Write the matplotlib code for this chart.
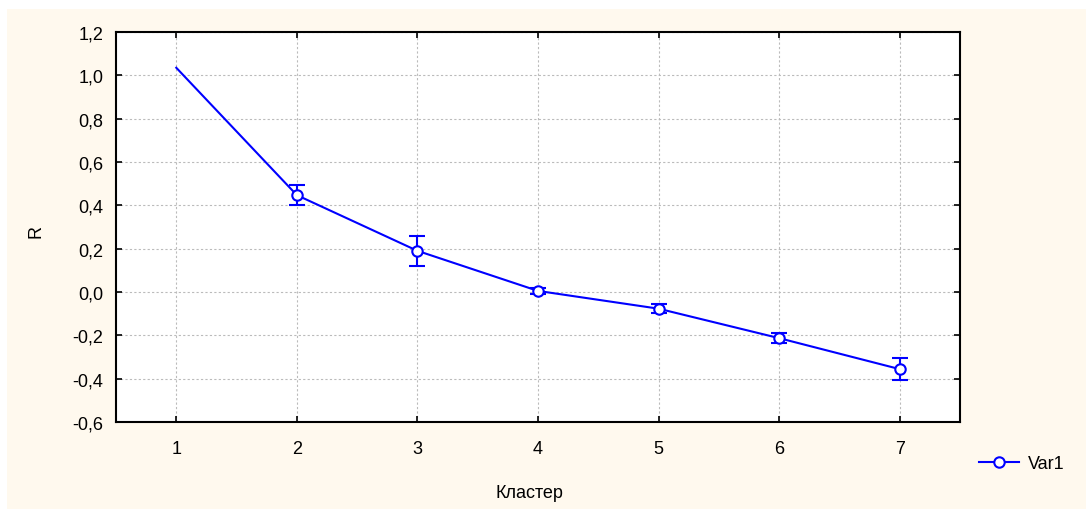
import matplotlib
matplotlib.use("Agg")
import matplotlib.pyplot as plt
from matplotlib.patches import Rectangle
from matplotlib.lines import Line2D

plt.rcParams['font.family'] = ['Liberation Sans', 'DejaVu Sans']

clusters = [1, 2, 3, 4, 5, 6, 7]
values = [1.035, 0.447, 0.190, 0.005, -0.077, -0.213, -0.356]
err_clusters = [2, 3, 4, 5, 6, 7]
err_values = [0.447, 0.190, 0.005, -0.077, -0.213, -0.356]
err_sizes = [0.045, 0.07, 0.012, 0.021, 0.022, 0.052]
yticks = [-0.6, -0.4, -0.2, 0.0, 0.2, 0.4, 0.6, 0.8, 1.0, 1.2]
ytick_labels = ["-0,6", "-0,4", "-0,2", "0,0", "0,2", "0,4", "0,6", "0,8", "1,0", "1,2"]
xtick_labels = ["1", "2", "3", "4", "5", "6", "7"]

W, H = 1086, 510
fs = 13
fig = plt.figure(figsize=(W / 100, H / 100), dpi=100, facecolor='white')
fig.patches.append(Rectangle((7 / W, 0), 1 - 7 / W, 1 - 10 / H, transform=fig.transFigure,
                             facecolor='#FFF9EE', edgecolor='none', zorder=-10))

ax = fig.add_axes([116 / W, 1 - 423 / H, (960 - 116) / W, (423 - 33) / H])
ax.set_facecolor('white')

blue = '#0000FF'
ax.plot(clusters, values, color=blue, lw=1.5, zorder=3)
ax.errorbar(err_clusters, err_values, yerr=err_sizes, fmt='o', color=blue, ecolor=blue,
            elinewidth=1.5, capsize=6, capthick=1.5, markersize=7.5,
            markerfacecolor='white', markeredgecolor=blue, markeredgewidth=1.5, zorder=4)

ax.set_xlim(0.5, 7.5)
ax.set_ylim(-0.6, 1.2)
ax.set_xticks(clusters)
ax.set_xticklabels(xtick_labels)
ax.set_yticks(yticks)
ax.set_yticklabels(ytick_labels)

ax.grid(True, color='#BBBBBB', linestyle=(0, (2, 2)), lw=0.8)
ax.set_axisbelow(True)
for s in ax.spines.values():
    s.set_linewidth(1.5)
    s.set_color('black')
ax.tick_params(direction='in', length=4, width=1.2, top=True, right=True,
               labelsize=fs, colors='black')
ax.tick_params(axis='x', pad=13)
ax.tick_params(axis='y', pad=9)

ax.set_xlabel("Кластер", fontsize=fs)
ax.xaxis.set_label_coords((529 - 116) / (960 - 116), -(493 - 423) / (423 - 33))
ax.xaxis.label.set_va('center')
ax.set_ylabel("R", fontsize=fs)
ax.yaxis.set_label_coords(-(116 - 36) / (960 - 116), (423 - 231) / (423 - 33))
ax.yaxis.label.set_va('center')

h = Line2D([], [], color=blue, lw=1.5, marker='o', markersize=7.5,
           markerfacecolor='white', markeredgecolor=blue, markeredgewidth=1.5)
fig.legend([h], ["Var1"], loc='center left', bbox_to_anchor=(963 / W, 1 - 465 / H),
           frameon=False, fontsize=fs, handlelength=2.2, handletextpad=0.5)

fig.savefig("out.png", dpi=100, facecolor=fig.get_facecolor())
